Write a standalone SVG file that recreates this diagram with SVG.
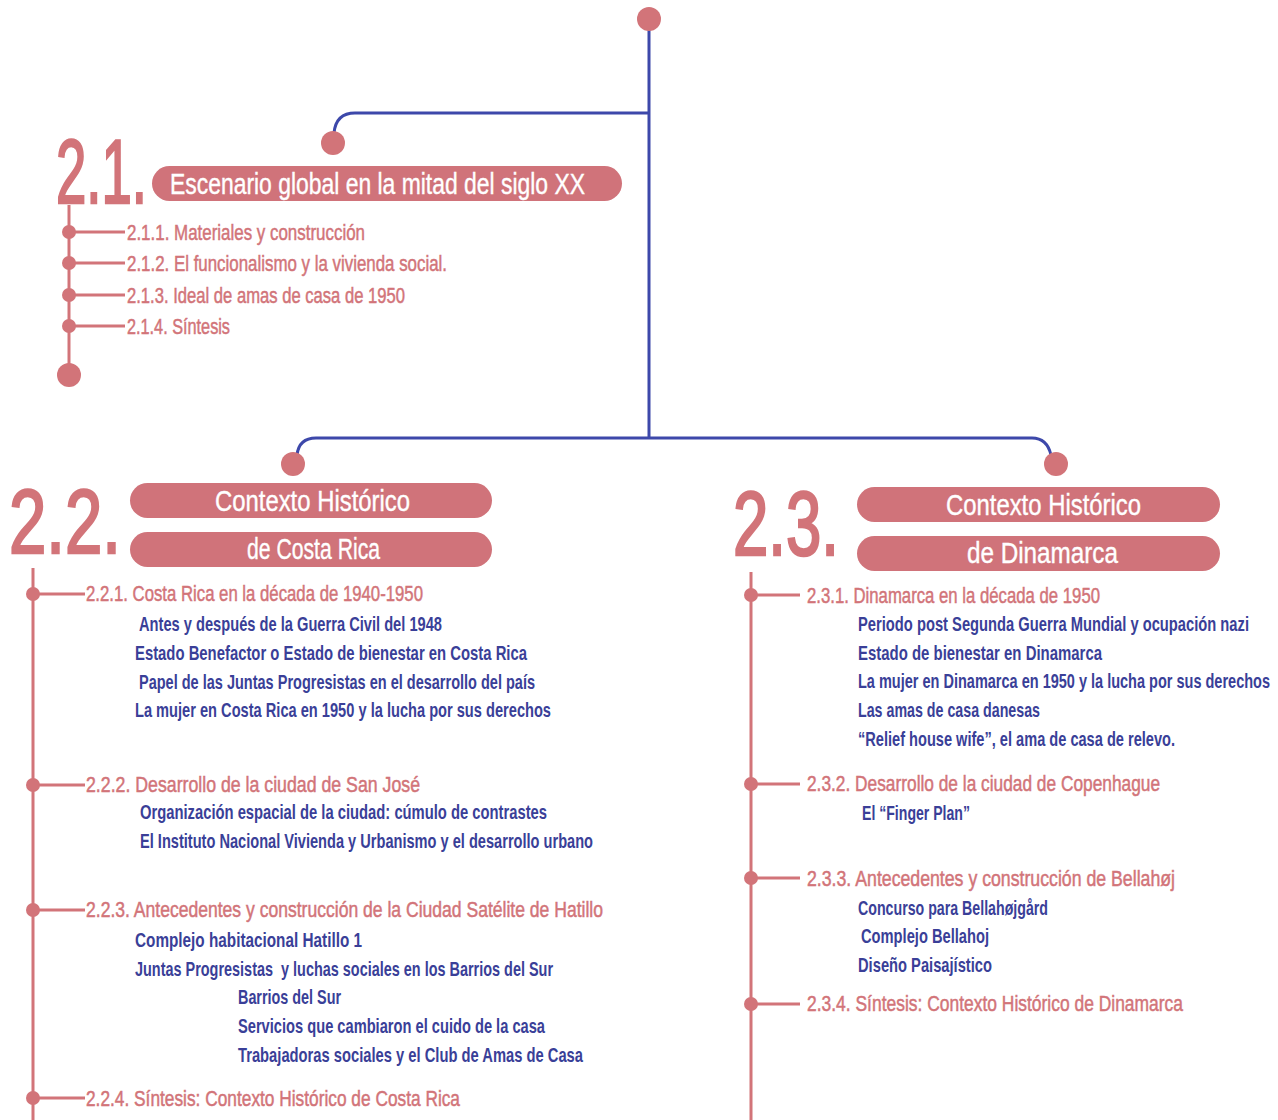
<svg xmlns="http://www.w3.org/2000/svg" width="1278" height="1120" viewBox="0 0 1278 1120">
  <style>
    text { font-family: "Liberation Sans Narrow", "Liberation Sans", Arial, sans-serif; }
    .big { fill: #d27479; stroke: #d27479; stroke-width: 2.5px; font-size: 90px; }
    .pill { fill: #d0737a; }
    .ptxt { fill: #ffffff; stroke: #ffffff; stroke-width: 0.4px; font-size: 30px; }
    .item { fill: #d27479; stroke: #d27479; stroke-width: 0.5px; font-size: 22.5px; }
    .sub { fill: #3a3f98; font-size: 20.5px; font-weight: bold; }
    .trunk { stroke: #3d48aa; stroke-width: 3; fill: none; }
    .stem { stroke: #d27479; stroke-width: 3; fill: none; }
    .dot { fill: #d27479; }
  </style>

  <rect width="1278" height="1120" fill="#ffffff"/>

  <!-- main blue tree and pink branch stems -->
  <g id="connectors">
    <path class="trunk" d="M649 19 V438"/>
    <path class="trunk" d="M649 113 H355 Q336 113 334 133"/>
    <path class="trunk" d="M649 438 H316 Q299 438 297 455"/>
    <path class="trunk" d="M649 438 H1032 Q1047 438 1051 455"/>
    <path class="stem" d="M69 205 V375"/>
    <path class="stem" d="M69 232 H125 M69 263 H125 M69 295 H125 M69 326 H125"/>
    <path class="stem" d="M33 568 V1120"/>
    <path class="stem" d="M33 594 H85 M33 785 H85 M33 910 H85 M33 1098 H85"/>
    <path class="stem" d="M751 572 V1120"/>
    <path class="stem" d="M751 595 H800 M751 784 H800 M751 878 H800 M751 1004 H800"/>
  </g>

  <g id="root">
    <circle class="dot" cx="649" cy="19" r="12"/>
  </g>

  <!-- 2.1 -->
  <g id="node-2-1">
    <circle class="dot" cx="333" cy="143" r="12"/>
    <text class="big" x="56" y="203" textLength="91" lengthAdjust="spacingAndGlyphs">2.1.</text>
    <rect class="pill" x="152" y="166" width="470" height="35" rx="17.5"/>
    <text class="ptxt" x="170" y="194" textLength="415" lengthAdjust="spacingAndGlyphs">Escenario global en la mitad del siglo XX</text>
    <circle class="dot" cx="69" cy="232" r="7"/>
    <circle class="dot" cx="69" cy="263" r="7"/>
    <circle class="dot" cx="69" cy="295" r="7"/>
    <circle class="dot" cx="69" cy="326" r="7"/>
    <circle class="dot" cx="69" cy="375" r="12"/>
    <text class="item" x="127" y="240" textLength="238" lengthAdjust="spacingAndGlyphs">2.1.1. Materiales y construcción</text>
    <text class="item" x="127" y="271" textLength="320" lengthAdjust="spacingAndGlyphs">2.1.2. El funcionalismo y la vivienda social.</text>
    <text class="item" x="127" y="303" textLength="278" lengthAdjust="spacingAndGlyphs">2.1.3. Ideal de amas de casa de 1950</text>
    <text class="item" x="127" y="334" textLength="103" lengthAdjust="spacingAndGlyphs">2.1.4. Síntesis</text>
  </g>

  <!-- 2.2 -->
  <g id="node-2-2">
    <circle class="dot" cx="293" cy="464" r="12"/>
    <text class="big" x="9" y="553" textLength="112" lengthAdjust="spacingAndGlyphs">2.2.</text>
    <rect class="pill" x="130" y="483" width="362" height="35" rx="17.5"/>
    <rect class="pill" x="130" y="532" width="362" height="35" rx="17.5"/>
    <text class="ptxt" x="215" y="511" textLength="195" lengthAdjust="spacingAndGlyphs">Contexto Histórico</text>
    <text class="ptxt" x="247" y="559" textLength="133" lengthAdjust="spacingAndGlyphs">de Costa Rica</text>
    <circle class="dot" cx="33" cy="594" r="7"/>
    <circle class="dot" cx="33" cy="785" r="7"/>
    <circle class="dot" cx="33" cy="910" r="7"/>
    <circle class="dot" cx="33" cy="1098" r="7"/>
    <text class="item" x="86" y="601" textLength="337" lengthAdjust="spacingAndGlyphs">2.2.1. Costa Rica en la década de 1940-1950</text>
    <text class="sub" x="139" y="631" textLength="303" lengthAdjust="spacingAndGlyphs">Antes y después de la Guerra Civil del 1948</text>
    <text class="sub" x="135" y="660" textLength="392" lengthAdjust="spacingAndGlyphs">Estado Benefactor o Estado de bienestar en Costa Rica</text>
    <text class="sub" x="139" y="689" textLength="396" lengthAdjust="spacingAndGlyphs">Papel de las Juntas Progresistas en el desarrollo del país</text>
    <text class="sub" x="135" y="717" textLength="416" lengthAdjust="spacingAndGlyphs">La mujer en Costa Rica en 1950 y la lucha por sus derechos</text>
    <text class="item" x="86" y="792" textLength="334" lengthAdjust="spacingAndGlyphs">2.2.2. Desarrollo de la ciudad de San José</text>
    <text class="sub" x="140" y="819" textLength="407" lengthAdjust="spacingAndGlyphs">Organización espacial de la ciudad: cúmulo de contrastes</text>
    <text class="sub" x="140" y="848" textLength="453" lengthAdjust="spacingAndGlyphs">El Instituto Nacional Vivienda y Urbanismo y el desarrollo urbano</text>
    <text class="item" x="86" y="917" textLength="517" lengthAdjust="spacingAndGlyphs">2.2.3. Antecedentes y construcción de la Ciudad Satélite de Hatillo</text>
    <text class="sub" x="135" y="947" textLength="227" lengthAdjust="spacingAndGlyphs">Complejo habitacional Hatillo 1</text>
    <text class="sub" x="135" y="976" textLength="418" lengthAdjust="spacingAndGlyphs" xml:space="preserve">Juntas Progresistas  y luchas sociales en los Barrios del Sur</text>
    <text class="sub" x="238" y="1004" textLength="103" lengthAdjust="spacingAndGlyphs">Barrios del Sur</text>
    <text class="sub" x="238" y="1033" textLength="307" lengthAdjust="spacingAndGlyphs">Servicios que cambiaron el cuido de la casa</text>
    <text class="sub" x="238" y="1062" textLength="345" lengthAdjust="spacingAndGlyphs">Trabajadoras sociales y el Club de Amas de Casa</text>
    <text class="item" x="86" y="1106" textLength="374" lengthAdjust="spacingAndGlyphs">2.2.4. Síntesis: Contexto Histórico de Costa Rica</text>
  </g>

  <!-- 2.3 -->
  <g id="node-2-3">
    <circle class="dot" cx="1056" cy="464" r="12"/>
    <text class="big" x="733" y="555" textLength="106" lengthAdjust="spacingAndGlyphs">2.3.</text>
    <rect class="pill" x="857" y="487" width="363" height="35" rx="17.5"/>
    <rect class="pill" x="857" y="536" width="363" height="35" rx="17.5"/>
    <text class="ptxt" x="946" y="515" textLength="195" lengthAdjust="spacingAndGlyphs">Contexto Histórico</text>
    <text class="ptxt" x="967" y="563" textLength="151" lengthAdjust="spacingAndGlyphs">de Dinamarca</text>
    <circle class="dot" cx="751" cy="595" r="7"/>
    <circle class="dot" cx="751" cy="784" r="7"/>
    <circle class="dot" cx="751" cy="878" r="7"/>
    <circle class="dot" cx="751" cy="1004" r="7"/>
    <text class="item" x="807" y="603" textLength="293" lengthAdjust="spacingAndGlyphs">2.3.1. Dinamarca en la década de 1950</text>
    <text class="sub" x="858" y="631" textLength="391" lengthAdjust="spacingAndGlyphs">Periodo post Segunda Guerra Mundial y ocupación nazi</text>
    <text class="sub" x="858" y="660" textLength="244" lengthAdjust="spacingAndGlyphs">Estado de bienestar en Dinamarca</text>
    <text class="sub" x="858" y="688" textLength="412" lengthAdjust="spacingAndGlyphs">La mujer en Dinamarca en 1950 y la lucha por sus derechos</text>
    <text class="sub" x="858" y="717" textLength="182" lengthAdjust="spacingAndGlyphs">Las amas de casa danesas</text>
    <text class="sub" x="858" y="746" textLength="317" lengthAdjust="spacingAndGlyphs">“Relief house wife”, el ama de casa de relevo.</text>
    <text class="item" x="807" y="791" textLength="353" lengthAdjust="spacingAndGlyphs">2.3.2. Desarrollo de la ciudad de Copenhague</text>
    <text class="sub" x="862" y="820" textLength="108" lengthAdjust="spacingAndGlyphs">El “Finger Plan”</text>
    <text class="item" x="807" y="886" textLength="368" lengthAdjust="spacingAndGlyphs">2.3.3. Antecedentes y construcción de Bellahøj</text>
    <text class="sub" x="858" y="915" textLength="190" lengthAdjust="spacingAndGlyphs">Concurso para Bellahøjgård</text>
    <text class="sub" x="861" y="943" textLength="128" lengthAdjust="spacingAndGlyphs">Complejo Bellahoj</text>
    <text class="sub" x="858" y="972" textLength="134" lengthAdjust="spacingAndGlyphs">Diseño Paisajístico</text>
    <text class="item" x="807" y="1011" textLength="376" lengthAdjust="spacingAndGlyphs">2.3.4. Síntesis: Contexto Histórico de Dinamarca</text>
  </g>
</svg>
